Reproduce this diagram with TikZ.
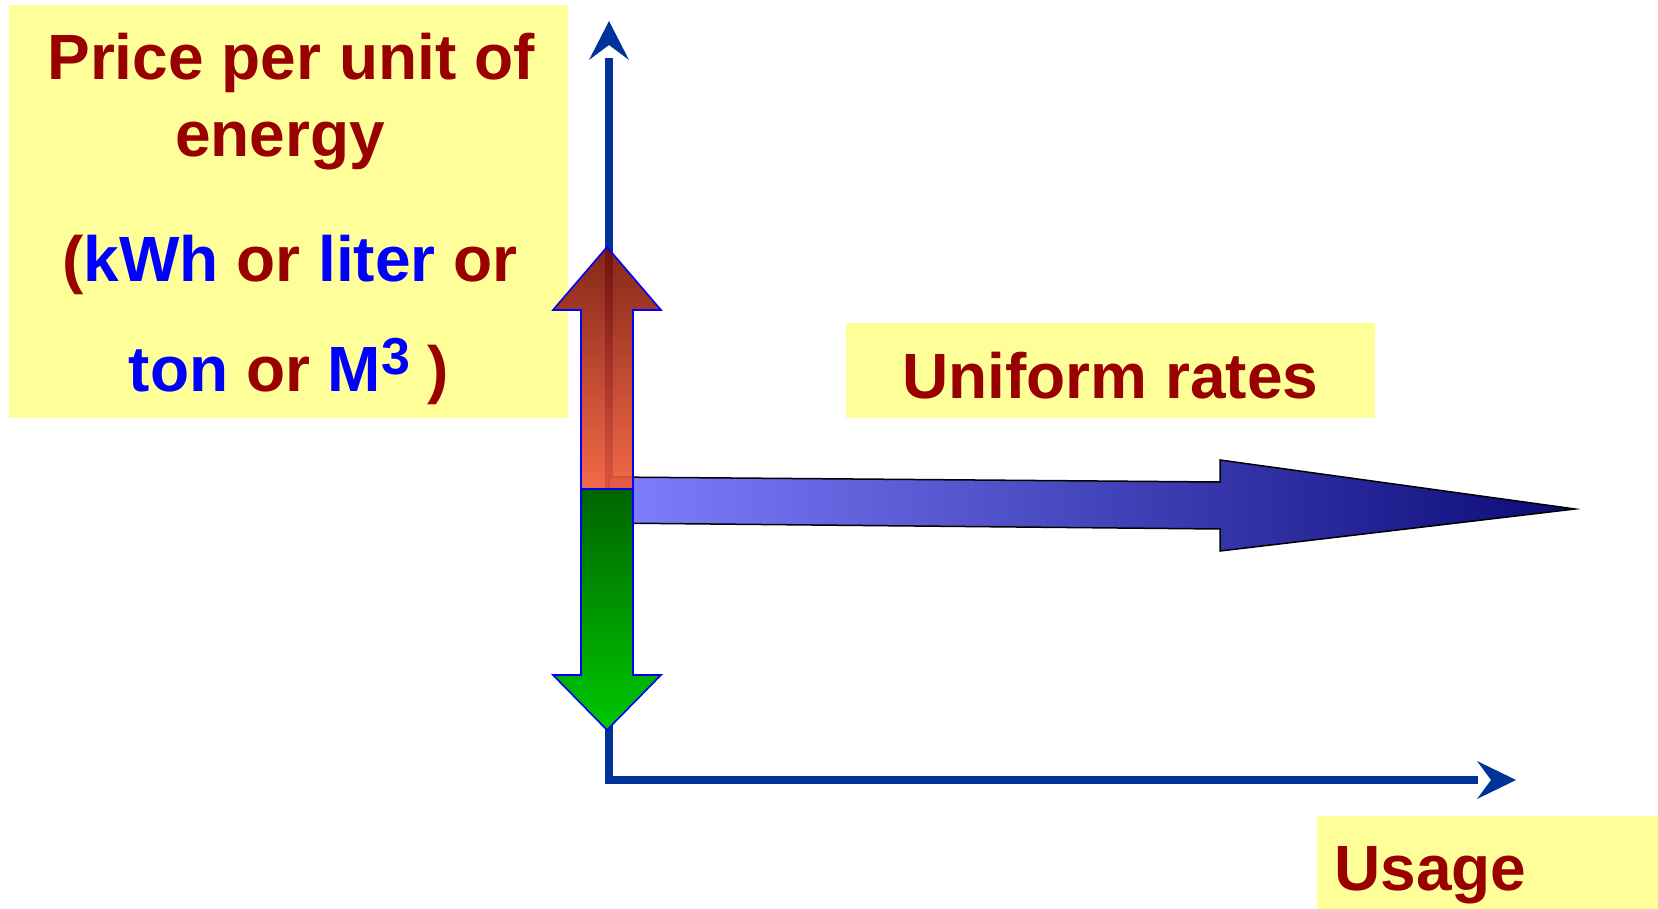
\documentclass[tikz,border=0pt]{standalone}
\usepackage{fontspec}
\setmainfont{Liberation Sans}
\usetikzlibrary{calc}
\definecolor{dred}{HTML}{990000}
\definecolor{ublue}{HTML}{0000FF}
\definecolor{lyellow}{HTML}{FFFF99}
\definecolor{axisblue}{HTML}{003399}
\definecolor{hLeft}{HTML}{8080FF}
\definecolor{hMid}{HTML}{4242C8}
\definecolor{hRight}{HTML}{0A0A78}
\definecolor{rTop}{HTML}{780F00}
\definecolor{rBot}{HTML}{F25A35}
\definecolor{gTop}{HTML}{006400}
\definecolor{gBot}{HTML}{00C800}
\begin{document}
\begin{tikzpicture}[x=0.5pt,y=-0.5pt,
  ybox/.style={fill=lyellow, draw=none, inner sep=0pt, anchor=north west},
  lbl/.style={anchor=base, inner sep=0pt, font=\fontsize{32}{38}\selectfont\bfseries, text=dred},
  axisline/.style={draw=axisblue, line width=4pt, line join=miter},
  axishead/.style={fill=axisblue, draw=none},
  uparrow/.style={top color=rTop, bottom color=rBot, draw=ublue, line width=0.8pt, fill opacity=0.9},
  downarrow/.style={top color=gTop, bottom color=gBot, draw=ublue, line width=0.8pt},
  ratearrow/.style={left color=hLeft, middle color=hMid, right color=hRight, draw=black, line width=0.75pt}]
\useasboundingbox (0,0) rectangle (1658,909);

% yellow label boxes
\node[ybox, minimum width=279.75pt, minimum height=206.5pt] (pbox) at (8.5,5) {};
\node[ybox, minimum width=264.5pt, minimum height=47.5pt] (ubox) at (846,323) {};
\node[ybox, minimum width=170.5pt, minimum height=46.5pt] (sbox) at (1317,816) {};

% axes
\coordinate (O) at (609,780);
\coordinate (ytop) at (609,58);
\coordinate (xend) at (1478,780);
\draw[axisline] (ytop) -- (O) -- (xend);
\fill[axishead] (609,21) -- (629,60) -- (609,45) -- (589,60) -- cycle;
\fill[axishead] (1516,780) -- (1477,799) -- (1491,780) -- (1477,761) -- cycle;

% uniform rate arrow
\shadedraw[ratearrow] (609,477) -- (1220,482) -- (1220,460) -- (1575,509)
  -- (1220,551) -- (1220,529) -- (609,523) -- cycle;

% price up arrow (semi-transparent)
\shadedraw[uparrow] (607,247) -- (661,310) -- (633,310) -- (633,489)
  -- (581,489) -- (581,310) -- (553,310) -- cycle;

% price down arrow
\shadedraw[downarrow] (581,489) -- (633,489) -- (633,675) -- (661,675)
  -- (607,730) -- (553,675) -- (581,675) -- cycle;

% texts
\node[lbl] (t1) at (291,80) {Price per unit of};
\node[lbl] (t2) at (280,157) {energy};
\node[lbl] (t3) at (290,281) {(\textcolor{ublue}{kWh} or \textcolor{ublue}{liter} or};
\node[lbl] (t4) at (289,391) {\textcolor{ublue}{ton} or \textcolor{ublue}{M\raisebox{8.5pt}{\fontsize{26}{30}\selectfont 3}} )};
\node[lbl] (tu) at (1110.5,398) {Uniform rates};
\node[lbl, anchor=base west] (ts) at (1334,890) {Usage};
\end{tikzpicture}
\end{document}
